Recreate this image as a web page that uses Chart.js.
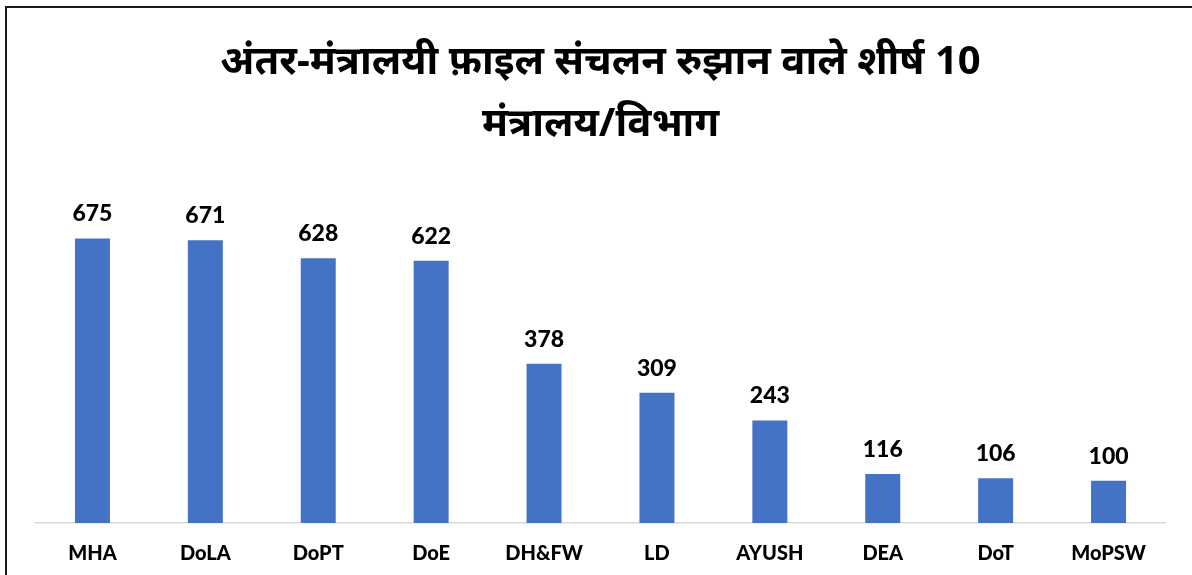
<!DOCTYPE html>
<html>
<head>
<meta charset="utf-8">
<script src="https://cdn.jsdelivr.net/npm/chart.js@4/dist/chart.umd.min.js"></script>
<style>
  html, body { margin: 0; padding: 0; background: #fff; overflow: hidden; }
  #wrap { position: absolute; left: 0; top: 0; width: 1192px; height: 575px; }
  #frame { position: absolute; left: 5px; top: 6px; width: 1300px; height: 700px;
           border-top: 2px solid #1a1a1a; border-left: 2px solid #1a1a1a; pointer-events: none; }
  canvas { position: absolute; left: 0; top: 0; }
</style>
</head>
<body>
<div id="wrap">
  <canvas id="c" width="1192" height="575"></canvas>
  <div id="frame"></div>
</div>
<script>
const titleLines = ["अंतर-मंत्रालयी फ़ाइल संचलन रुझान वाले शीर्ष 10", "मंत्रालय/विभाग"];
const categories = ["MHA", "DoLA", "DoPT", "DoE", "DH&FW", "LD", "AYUSH", "DEA", "DoT", "MoPSW"];
const fileCounts = [675, 671, 628, 622, 378, 309, 243, 116, 106, 100];
const yMax = 800;

const labelFont = "Lato, 'Open Sans', 'Liberation Sans', sans-serif";

const valueLabels = {
  id: 'valueLabels',
  afterDatasetsDraw(chart) {
    const ctx = chart.ctx;
    const meta = chart.getDatasetMeta(0);
    ctx.save();
    ctx.font = "900 23px " + labelFont;
    ctx.fillStyle = "#000";
    ctx.textAlign = "center";
    ctx.textBaseline = "bottom";
    meta.data.forEach((el, i) => {
      ctx.fillText(String(fileCounts[i]), el.x, el.y - 13);
    });
    ctx.restore();
  }
};

new Chart(document.getElementById('c'), {
  type: 'bar',
  data: {
    labels: categories,
    datasets: [{
      data: fileCounts,
      backgroundColor: '#4472C4',
      borderWidth: 0,
      categoryPercentage: 1.0,
      barPercentage: 0.31
    }]
  },
  options: {
    responsive: false,
    animation: false,
    devicePixelRatio: 1,
    layout: { padding: { left: 36, right: 27, top: 30, bottom: -10 } },
    plugins: {
      legend: { display: false },
      tooltip: { enabled: false },
      title: {
        display: true,
        text: titleLines,
        color: '#000',
        font: { family: "'Noto Sans', 'Noto Sans Devanagari', 'Liberation Sans', sans-serif", size: 40, weight: 'bold', lineHeight: 1.56 },
        padding: { top: 1, bottom: 30 }
      }
    },
    scales: {
      x: {
        grid: { display: false, drawTicks: false },
        border: { display: true, color: '#d9d9d9', width: 1.5 },
        ticks: { color: '#000', font: { family: labelFont, size: 20, weight: '900' }, padding: 19, maxRotation: 0 }
      },
      y: {
        display: false,
        min: 0,
        max: yMax
      }
    }
  },
  plugins: [valueLabels]
});
</script>
</body>
</html>
